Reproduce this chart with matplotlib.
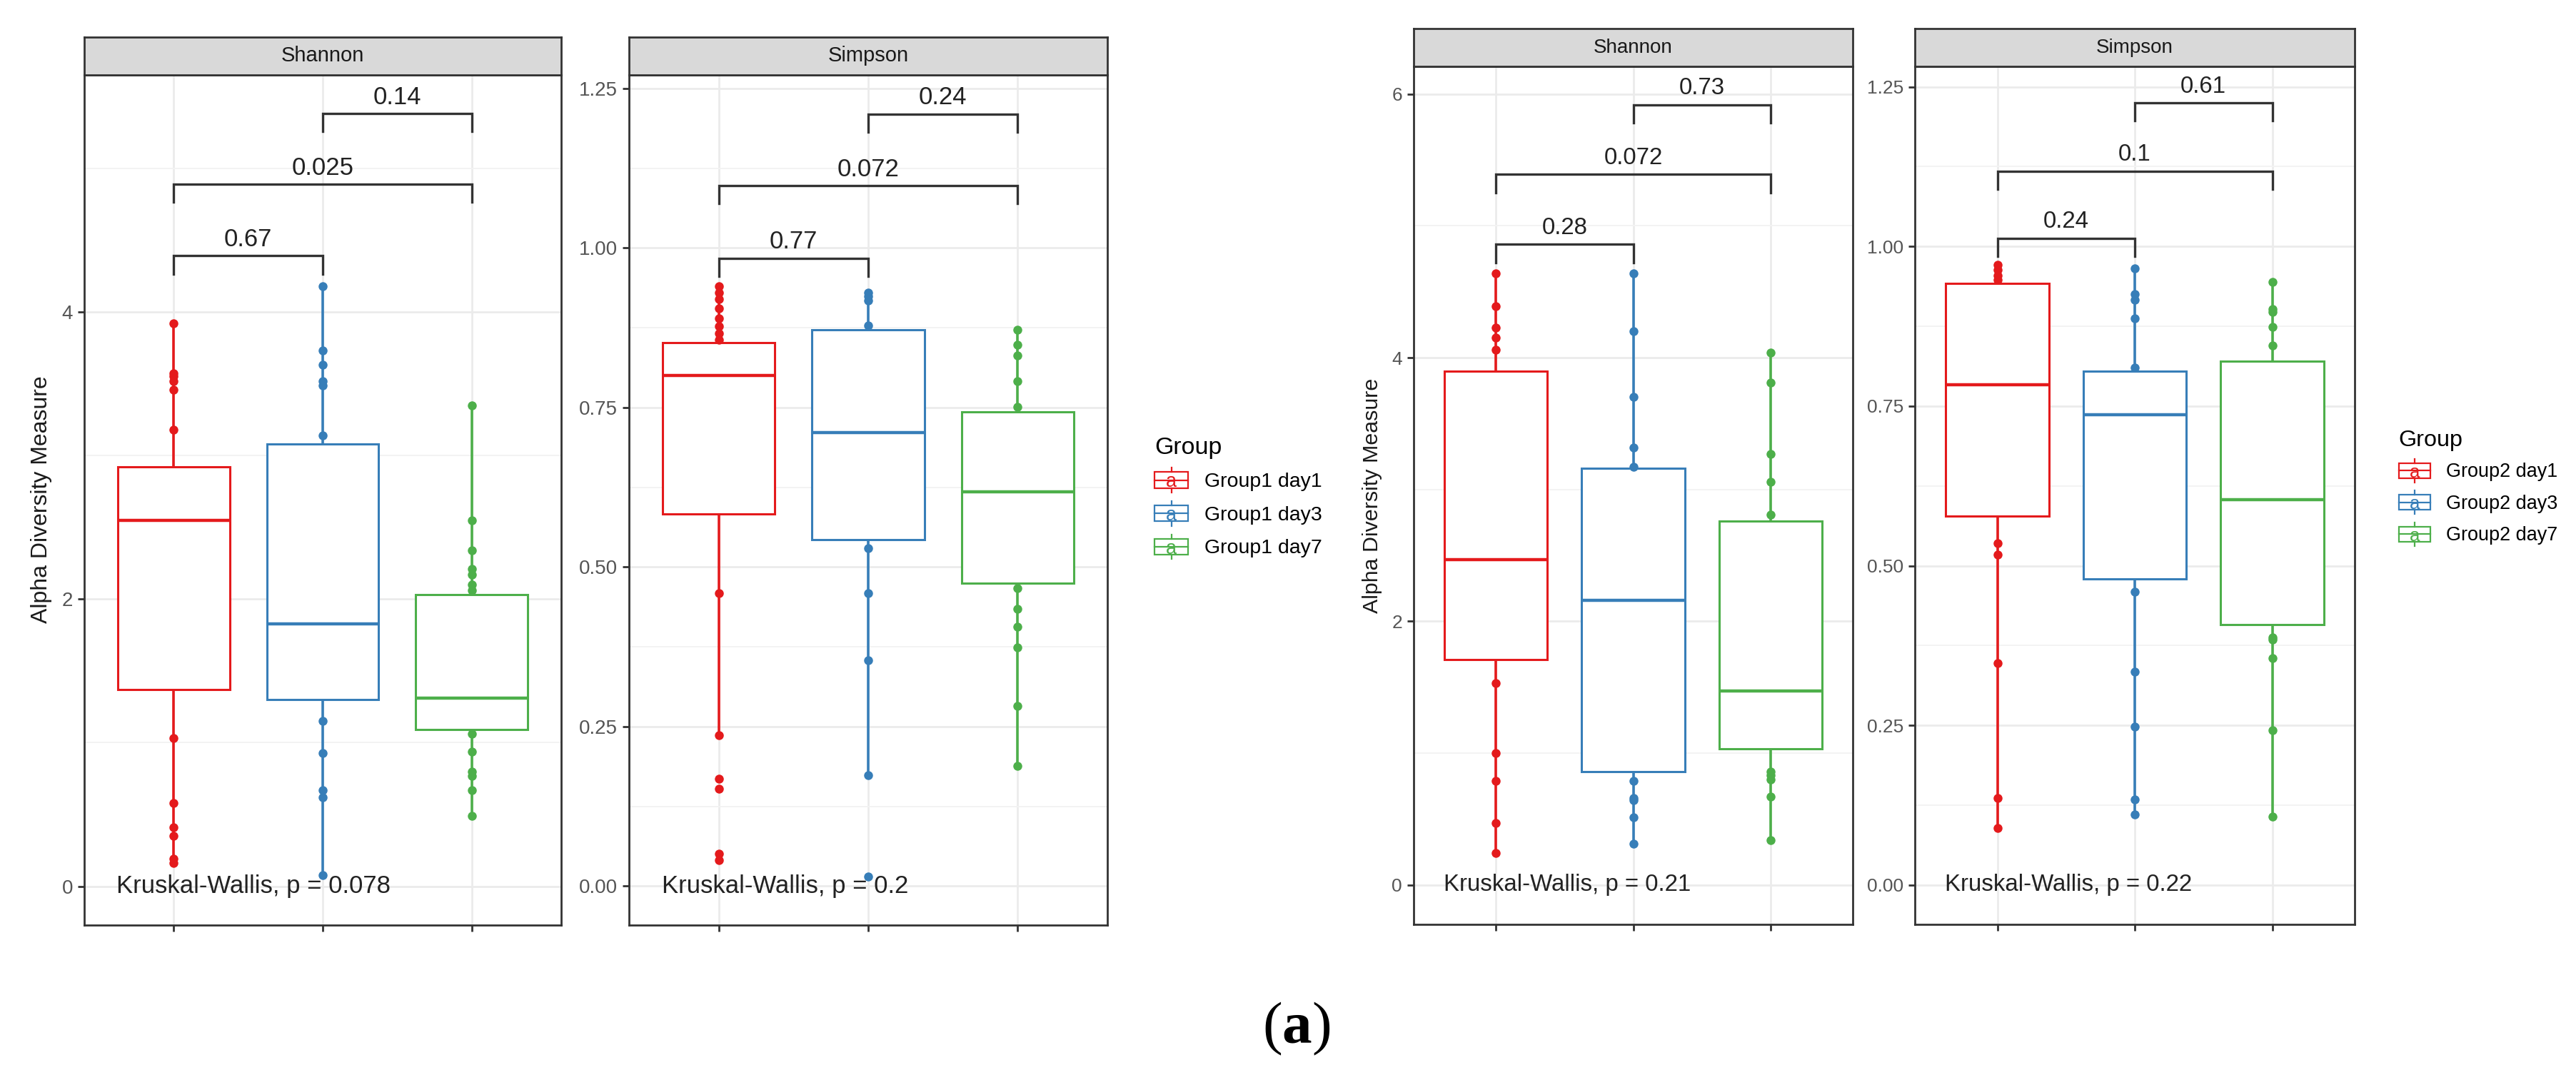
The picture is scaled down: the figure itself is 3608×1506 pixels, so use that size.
import matplotlib
matplotlib.use("Agg")
import matplotlib.pyplot as plt
import matplotlib.patches as mpatches
from matplotlib.lines import Line2D
from matplotlib.text import Text
from matplotlib.legend_handler import HandlerBase

plt.rcParams['font.family'] = ['Liberation Sans', 'DejaVu Sans']
plt.rcParams['mathtext.fontset'] = 'custom'
plt.rcParams['mathtext.bf'] = 'Liberation Serif:bold'

# ---------------- data ----------------
groups1 = ["Group1 day1", "Group1 day3", "Group1 day7"]
groups2 = ["Group2 day1", "Group2 day3", "Group2 day7"]
colors = ["#E41A1C", "#377EB8", "#4DAF4A"]

# visible points per box (points inside the boxes are hidden by the white fill)
g1_shannon_pts = [
    [3.92, 3.57, 3.55, 3.52, 3.46, 3.18, 1.03, 0.58, 0.41, 0.35, 0.19, 0.16],
    [4.18, 3.73, 3.63, 3.52, 3.49, 3.14, 1.15, 0.93, 0.67, 0.62, 0.08],
    [3.35, 2.55, 2.34, 2.21, 2.17, 2.10, 2.06, 1.06, 0.94, 0.80, 0.77, 0.67, 0.49],
]
# q1, median, q3, lower whisker, upper whisker
g1_shannon_box = [(1.37, 2.55, 2.92, 0.16, 3.92),
                  (1.30, 1.83, 3.08, 0.08, 4.18),
                  (1.09, 1.31, 2.03, 0.49, 3.35)]

g1_simpson_pts = [
    [0.94, 0.93, 0.92, 0.905, 0.89, 0.877, 0.866, 0.856, 0.459, 0.236, 0.168, 0.153, 0.051, 0.041],
    [0.930, 0.924, 0.918, 0.878, 0.530, 0.459, 0.354, 0.174, 0.015],
    [0.872, 0.848, 0.832, 0.791, 0.751, 0.467, 0.434, 0.406, 0.374, 0.282, 0.188],
]
g1_simpson_box = [(0.583, 0.800, 0.852, 0.236, 0.940),
                  (0.543, 0.711, 0.872, 0.174, 0.930),
                  (0.475, 0.618, 0.743, 0.188, 0.872)]

g2_shannon_pts = [
    [4.64, 4.39, 4.23, 4.15, 4.06, 1.53, 1.00, 0.79, 0.47, 0.24],
    [4.64, 4.20, 3.70, 3.32, 3.17, 0.79, 0.66, 0.64, 0.51, 0.31],
    [4.04, 3.81, 3.27, 3.06, 2.81, 0.86, 0.83, 0.80, 0.67, 0.34],
]
g2_shannon_box = [(1.71, 2.47, 3.90, 0.24, 4.64),
                  (0.86, 2.16, 3.16, 0.31, 4.64),
                  (1.03, 1.47, 2.76, 0.34, 4.04)]

g2_simpson_pts = [
    [0.971, 0.964, 0.955, 0.948, 0.535, 0.517, 0.348, 0.136, 0.089],
    [0.966, 0.925, 0.917, 0.888, 0.810, 0.459, 0.334, 0.248, 0.134, 0.111],
    [0.945, 0.902, 0.898, 0.874, 0.845, 0.388, 0.384, 0.355, 0.243, 0.107],
]
g2_simpson_box = [(0.578, 0.784, 0.942, 0.089, 0.971),
                  (0.480, 0.736, 0.805, 0.111, 0.966),
                  (0.408, 0.603, 0.820, 0.107, 0.945)]

# pairwise comparisons: (day1,day3), (day1,day7), (day3,day7)
pairs = [(1, 2), (1, 3), (2, 3)]
g1_shannon_p = ["0.67", "0.025", "0.14"]
g1_simpson_p = ["0.77", "0.072", "0.24"]
g2_shannon_p = ["0.28", "0.072", "0.73"]
g2_simpson_p = ["0.24", "0.1", "0.61"]
g1_shannon_bar = [4.39, 4.89, 5.38]
g1_simpson_bar = [0.984, 1.098, 1.21]
g2_shannon_bar = [4.86, 5.39, 5.92]
g2_simpson_bar = [1.013, 1.118, 1.225]

kw_labels = ["Kruskal-Wallis, p = 0.078", "Kruskal-Wallis, p = 0.2",
             "Kruskal-Wallis, p = 0.21", "Kruskal-Wallis, p = 0.22"]

# ---------------- figure ----------------
W, H = 3608, 1506
fig = plt.figure(figsize=(W / 100, H / 100), dpi=100)


def px_axes(x0, y0, x1, y1):
    return fig.add_axes([x0 / W, 1 - y1 / H, (x1 - x0) / W, (y1 - y0) / H])


class BoxKey(HandlerBase):
    # ggplot-like boxplot legend key with a small "a"
    def create_artists(self, legend, orig_handle, xdescent, ydescent,
                       width, height, fontsize, trans):
        c = orig_handle.get_edgecolor()
        x0, y0 = -xdescent, -ydescent
        xm = x0 + width / 2
        rect = mpatches.Rectangle((x0, y0 + 0.18 * height), width, 0.64 * height,
                                  facecolor="white", edgecolor=c, lw=1.6, transform=trans)
        med = Line2D([x0, x0 + width], [y0 + 0.5 * height] * 2, color=c, lw=1.6, transform=trans)
        wu = Line2D([xm, xm], [y0 + 0.82 * height, y0 + height], color=c, lw=1.6, transform=trans)
        wl = Line2D([xm, xm], [y0, y0 + 0.18 * height], color=c, lw=1.6, transform=trans)
        txt = Text(xm, y0 + 0.42 * height, "a", color=c, ha="center", va="center",
                   fontsize=fontsize * 0.95, transform=trans)
        return [rect, med, wu, wl, txt]


def draw_panel(ax, pts, boxes, ylim, yticks, yminor, ylabels, bars, plabels, kw, fs):
    rng = ylim[1] - ylim[0]
    stats = [dict(q1=b[0], med=b[1], q3=b[2], whislo=b[3], whishi=b[4], fliers=[])
             for b in boxes]
    bp = ax.bxp(stats, positions=[1, 2, 3], widths=0.75, patch_artist=True,
                showcaps=False, showfliers=False, zorder=3)
    for i, c in enumerate(colors):
        bp["boxes"][i].set_facecolor("white")
        bp["boxes"][i].set_edgecolor(c)
        bp["boxes"][i].set_linewidth(2.2)
        bp["medians"][i].set_color(c)
        bp["medians"][i].set_linewidth(3.2)
        for w in bp["whiskers"][2 * i:2 * i + 2]:
            w.set_color(c)
            w.set_linewidth(2.6)
            w.set_zorder(2)
        ax.plot([i + 1] * len(pts[i]), pts[i], "o", color=c, ms=9, mew=0, zorder=4)

    tip = 0.021 * rng
    for (a, b), yb, lab in zip(pairs, bars, plabels):
        ax.plot([a, a, b, b], [yb - tip, yb, yb, yb - tip], color="#333333",
                lw=2.4, zorder=5, solid_joinstyle="miter")
        ax.text((a + b) / 2, yb + 0.019 * rng, lab, ha="center", va="center",
                fontsize=25 * fs, color="#222222")
    ax.text(0.068, 0, kw, transform=ax.get_yaxis_transform(), ha="left",
            va="center", fontsize=25 * fs, color="#222222", zorder=6)

    ax.set_xlim(0.4, 3.6)
    ax.set_ylim(*ylim)
    ax.set_xticks([1, 2, 3])
    ax.set_xticklabels([])
    ax.set_yticks(yticks)
    ax.set_yticklabels(ylabels)
    ax.set_yticks(yminor, minor=True)
    ax.set_axisbelow(True)
    ax.grid(which="major", color="#EBEBEB", lw=2.0)
    ax.grid(which="minor", axis="y", color="#F3F3F3", lw=1.4)
    ax.tick_params(which="major", direction="out", length=6.5, width=2,
                   color="#333333", labelcolor="#555555", labelsize=20 * fs, pad=5)
    ax.tick_params(which="minor", length=0)
    for s in ax.spines.values():
        s.set_color("#333333")
        s.set_linewidth(2.0)


def draw_strip(x0, x1, y0, y1, label, fs):
    sa = px_axes(x0, y0, x1, y1)
    sa.set_facecolor("#D9D9D9")
    sa.set_xticks([])
    sa.set_yticks([])
    for s in sa.spines.values():
        s.set_color("#333333")
        s.set_linewidth(2.0)
    sa.text(0.5, 0.5, label, ha="center", va="center", fontsize=21 * fs,
            color="#1A1A1A", transform=sa.transAxes)


shannon_ticks_a = [0, 2, 4]
shannon_ticks_b = [0, 2, 4, 6]
simpson_ticks = [0, 0.25, 0.5, 0.75, 1.0, 1.25]
simpson_labels = ["0.00", "0.25", "0.50", "0.75", "1.00", "1.25"]
simpson_minor = [0.125, 0.375, 0.625, 0.875, 1.125]

# ---- left block (Group1) ----
fsa = 1.0
ax1 = px_axes(118, 105, 786, 1296)
draw_panel(ax1, g1_shannon_pts, g1_shannon_box, (-0.27, 5.65), shannon_ticks_a,
           [1, 3, 5], ["0", "2", "4"], g1_shannon_bar, g1_shannon_p, kw_labels[0], fsa)
draw_strip(118, 786, 52, 105, "Shannon", fsa)

ax2 = px_axes(881, 105, 1551, 1296)
draw_panel(ax2, g1_simpson_pts, g1_simpson_box, (-0.061, 1.271), simpson_ticks,
           simpson_minor, simpson_labels, g1_simpson_bar, g1_simpson_p, kw_labels[1], fsa)
draw_strip(881, 1551, 52, 105, "Simpson", fsa)

fig.text(58 / W, 1 - 700 / H, "Alpha Diversity Measure", rotation=90, ha="center",
         va="center", fontsize=23, color="#1A1A1A")

h1 = [mpatches.Patch(facecolor="white", edgecolor=c, label=g) for c, g in zip(colors, groups1)]
leg1 = fig.legend(handles=h1, title="Group", loc="upper left",
                  bbox_to_anchor=(1603 / W, 1 - 598 / H), frameon=False,
                  fontsize=20.5, title_fontsize=24.5, alignment="left",
                  handler_map={mpatches.Patch: BoxKey()}, borderpad=0,
                  handlelength=1.65, handleheight=1.5, labelspacing=0.42,
                  handletextpad=0.8)

# ---- right block (Group2) ----
fsb = 0.95
ax3 = px_axes(1980, 93, 2595, 1295)
draw_panel(ax3, g2_shannon_pts, g2_shannon_box, (-0.30, 6.21), shannon_ticks_b,
           [1, 3, 5], ["0", "2", "4", "6"], g2_shannon_bar, g2_shannon_p, kw_labels[2], fsb)
draw_strip(1980, 2595, 40, 93, "Shannon", fsb)

ax4 = px_axes(2682, 93, 3298, 1295)
draw_panel(ax4, g2_simpson_pts, g2_simpson_box, (-0.0615, 1.282), simpson_ticks,
           simpson_minor, simpson_labels, g2_simpson_bar, g2_simpson_p, kw_labels[3], fsb)
draw_strip(2682, 3298, 40, 93, "Simpson", fsb)

fig.text(1922 / W, 1 - 694 / H, "Alpha Diversity Measure", rotation=90, ha="center",
         va="center", fontsize=23 * fsb, color="#1A1A1A")

h2 = [mpatches.Patch(facecolor="white", edgecolor=c, label=g) for c, g in zip(colors, groups2)]
leg2 = fig.legend(handles=h2, title="Group", loc="upper left",
                  bbox_to_anchor=(3346 / W, 1 - 588 / H), frameon=False,
                  fontsize=20.5 * fsb, title_fontsize=24.5 * fsb, alignment="left",
                  handler_map={mpatches.Patch: BoxKey()}, borderpad=0,
                  handlelength=1.65, handleheight=1.5, labelspacing=0.42,
                  handletextpad=0.8)

# ---- sub-figure label ----
fig.text(1816 / W, 1 - 1441 / H, r"($\mathbf{a}$)", ha="center", va="center",
         fontsize=60, family="Liberation Serif", color="black")

fig.savefig("out.png", dpi=100, facecolor="white")
